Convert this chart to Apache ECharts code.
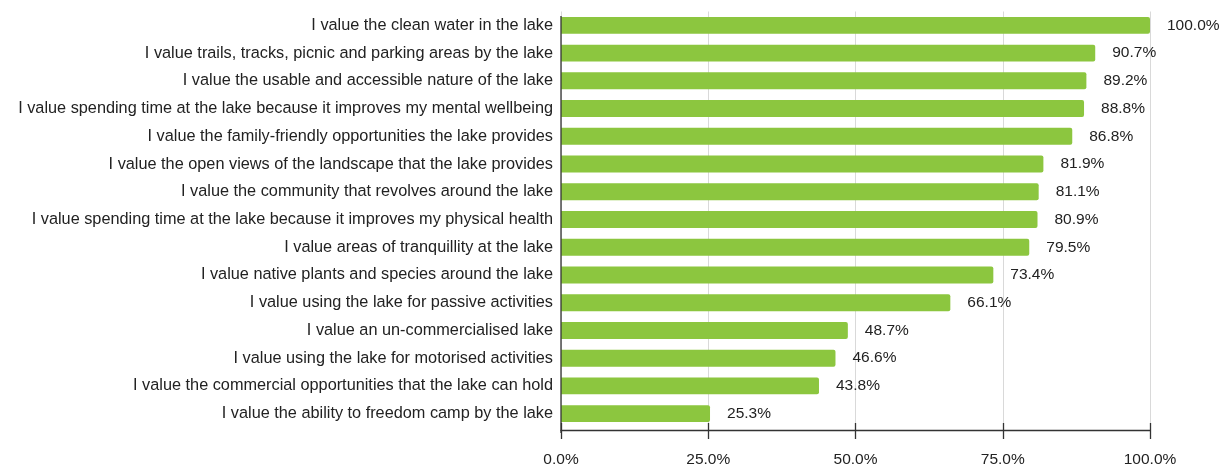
<!DOCTYPE html>
<html><head><meta charset="utf-8">
<script src="https://cdn.jsdelivr.net/npm/echarts@6/dist/echarts.min.js"></script>
<style>html,body{margin:0;padding:0;background:#fff}#c{width:1230px;height:468px}</style>
</head><body><div id="c"></div>
<script>
const categories = [
  "I value the clean water in the lake",
  "I value trails, tracks, picnic and parking areas by the lake",
  "I value the usable and accessible nature of the lake",
  "I value spending time at the lake because it improves my mental wellbeing",
  "I value the family-friendly opportunities the lake provides",
  "I value the open views of the landscape that the lake provides",
  "I value the community that revolves around the lake",
  "I value spending time at the lake because it improves my physical health",
  "I value areas of tranquillity at the lake",
  "I value native plants and species around the lake",
  "I value using the lake for passive activities",
  "I value an un-commercialised lake",
  "I value using the lake for motorised activities",
  "I value the commercial opportunities that the lake can hold",
  "I value the ability to freedom camp by the lake"
];
const values = [100.0, 90.7, 89.2, 88.8, 86.8, 81.9, 81.1, 80.9, 79.5, 73.4, 66.1, 48.7, 46.6, 43.8, 25.3];
const xTicks = [0, 25, 50, 75, 100];

const chart = echarts.init(document.getElementById('c'));
const font = '"Liberation Sans", Arial, sans-serif';
const gridLeft = 561, gridTop = 11.5, gridBottom = 37.5, axisOffset = 2.5;
chart.setOption({
  animation: false,
  grid: {left: gridLeft, right: 80, top: gridTop, bottom: gridBottom, containLabel: false},
  xAxis: [{
    type: 'value', min: xTicks[0], max: xTicks[xTicks.length - 1], interval: 25, offset: axisOffset,
    axisLine: {show: true, lineStyle: {color: '#333', width: 1.3}},
    axisTick: {show: true, length: 9, lineStyle: {color: '#333', width: 1.3}},
    axisLabel: {color: '#222', fontSize: 15.5, fontFamily: font, margin: 22,
      formatter: v => v.toFixed(1) + '%'},
    splitLine: {show: true, lineStyle: {color: '#d9d9d9', width: 1}}
  }, {
    type: 'value', min: xTicks[0], max: xTicks[xTicks.length - 1], interval: 25, position: 'bottom', offset: axisOffset,
    axisLine: {show: false},
    axisTick: {show: true, inside: true, length: 7, lineStyle: {color: '#333', width: 1.3}},
    axisLabel: {show: false}, splitLine: {show: false}
  }],
  yAxis: {
    type: 'category', data: categories, inverse: true,
    axisLine: {show: false},
    axisTick: {show: false},
    axisLabel: {color: '#222', fontSize: 16.3, fontFamily: font, margin: 8}
  },
  graphic: [{
    type: 'line', z: 10,
    shape: {x1: gridLeft, y1: 16, x2: gridLeft, y2: 468 - gridBottom + axisOffset},
    style: {stroke: '#333', lineWidth: 1.3}
  }],
  series: [{
    type: 'bar', data: values, xAxisIndex: 0,
    barCategoryGap: '39%',
    itemStyle: {color: '#8cc63f', borderRadius: [0, 2, 2, 0]},
    label: {show: true, position: 'right', distance: 17, color: '#222', fontSize: 15.5, fontFamily: font,
      formatter: p => p.value.toFixed(1) + '%'}
  }]
});
</script></body></html>
